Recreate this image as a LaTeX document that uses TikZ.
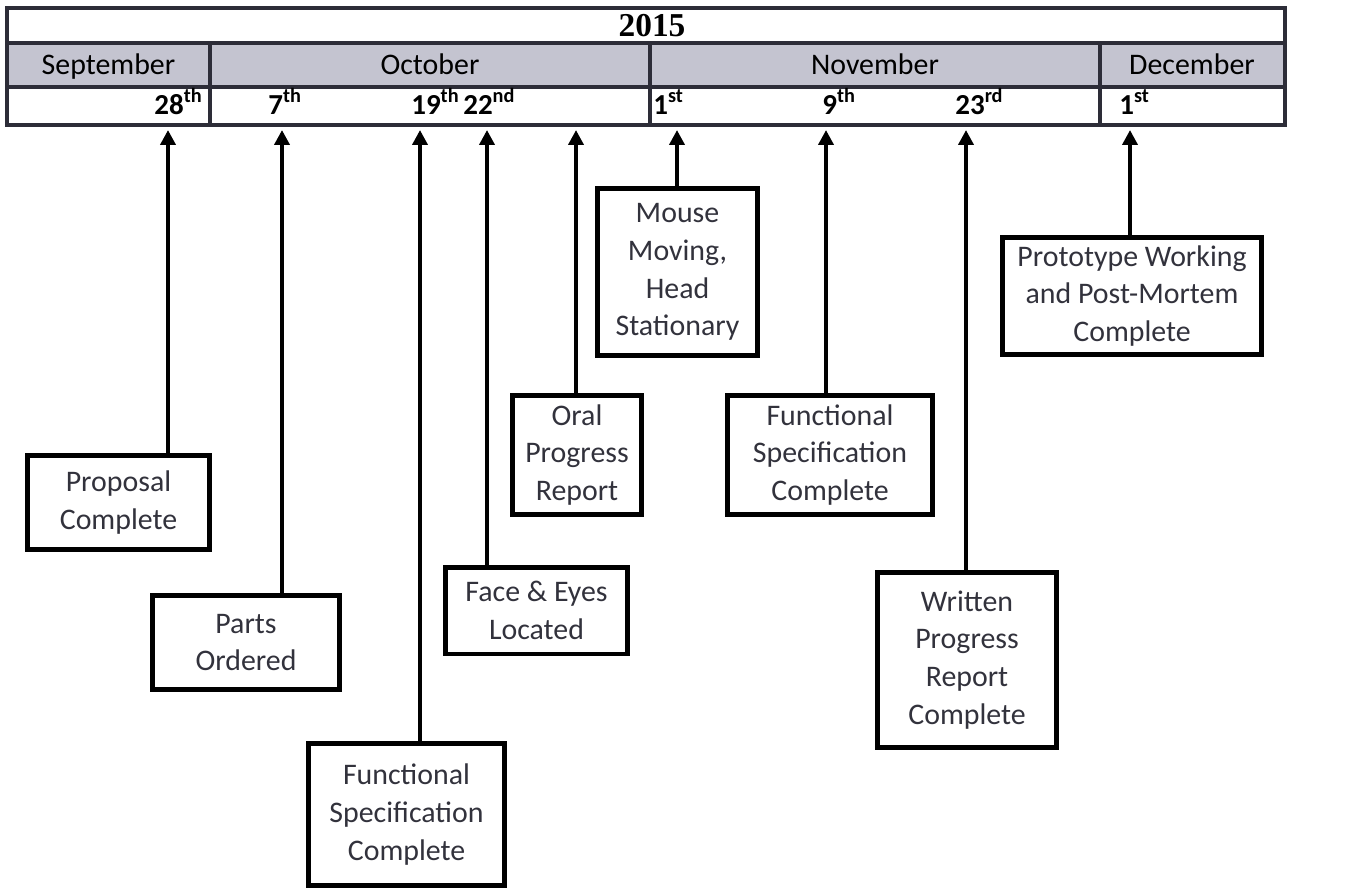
\documentclass[tikz,border=0pt]{standalone}
\usepackage{fontspec}
\setmainfont{Carlito}
\newfontfamily\yearfont{Liberation Serif}
\usepackage{tikz}
\usetikzlibrary{arrows.meta}

\definecolor{ink}{RGB}{45,45,56}
\definecolor{txt}{RGB}{50,50,60}
\definecolor{monthfill}{RGB}{196,196,208}

\tikzset{
  cell/.style={draw=ink,line width=0.08cm},
  month/.style={anchor=base,inner sep=0pt,text=black,font=\fontsize{17}{20}\selectfont},
  daylbl/.style={anchor=base west,inner sep=0pt,text=black,font=\fontsize{16.5}{20}\selectfont\bfseries},
  goal/.style={draw=black,line width=0.1cm,align=center,inner sep=0pt,text=txt,font=\fontsize{17}{21.5}\selectfont},
  due/.style={-{Triangle[length=0.3cm,width=0.3cm]},line width=0.08cm,black},
}
\newcommand{\nth}[2]{#1\textsuperscript{#2}}

\begin{document}
\begin{tikzpicture}[x=0.02cm,y=-0.02cm]
\useasboundingbox (0,0) rectangle (1348,892);

% table head
\draw[cell,fill=monthfill] (7,43) rectangle (1285,87);
\draw[cell] (7,8) rectangle (1285,125);
\draw[cell] (7,87) -- (1285,87);
\draw[cell] (210,43) -- (210,125) (650,43) -- (650,125) (1100,43) -- (1100,125);
\node (Y)[text=black,font=\fontsize{19}{22}\selectfont\yearfont\bfseries] at (652,26) {2015};
\node (Msep)[month] at (108.5,74) {September};
\node (Moct)[month] at (430,74) {October};
\node (Mnov)[month] at (875,74) {November};
\node (Mdec)[month] at (1192,74) {December};

\node (D1)[daylbl,anchor=base east] at (203,114) {\nth{28}{th}};
\node (D2)[daylbl] at (268,114) {\nth{7}{th}};
\node (D3)[daylbl] at (411,114) {\nth{19}{th}};
\node (D4)[daylbl] at (463,114) {\nth{22}{nd}};
\node (D5)[daylbl] at (653,114) {\nth{1}{st}};
\node (D6)[daylbl] at (822,114) {\nth{9}{th}};
\node (D7)[daylbl] at (955,114) {\nth{23}{rd}};
\node (D8)[daylbl] at (1119,114) {\nth{1}{st}};

% arrow tips under the table
\coordinate (T1) at (168,130);
\coordinate (T2) at (282,130);
\coordinate (T3) at (420,130);
\coordinate (T4) at (487,130);
\coordinate (T5) at (576,130);
\coordinate (T6) at (677,130);
\coordinate (T7) at (826,130);
\coordinate (T8) at (966,130);
\coordinate (T9) at (1130,130);

% milestones
\node (B1)[goal,minimum width=3.66cm,minimum height=1.9cm] at (118.5,502.5) {Proposal\\Complete};
\node (B2)[goal,minimum width=3.76cm,minimum height=1.9cm] at (246,642.5) {Parts\\Ordered};
\node (B3)[goal,minimum width=3.94cm,minimum height=2.86cm] at (406.5,814.5) {Functional\\Specification\\Complete};
\node (B4)[goal,minimum width=3.66cm,minimum height=1.74cm] at (536.5,610.5) {Face \& Eyes\\Located};
\node (B5)[goal,minimum width=2.6cm,minimum height=2.4cm] at (577,455) {Oral\\Progress\\Report};
\node (B6)[goal,minimum width=3.22cm,minimum height=3.36cm] at (677.5,272) {Mouse\\Moving,\\Head\\Stationary};
\node (B7)[goal,minimum width=4.12cm,minimum height=2.4cm] at (830,455) {Functional\\Specification\\Complete};
\node (B8)[goal,minimum width=3.6cm,minimum height=3.52cm] at (967,660) {Written\\Progress\\Report\\Complete};
\node (B9)[goal,minimum width=5.2cm,minimum height=2.36cm] at (1132,296) {Prototype Working\\and Post-Mortem\\Complete};

\draw[due] (T1 |- B1.north) -- (T1);
\draw[due] (T2 |- B2.north) -- (T2);
\draw[due] (T3 |- B3.north) -- (T3);
\draw[due] (T4 |- B4.north) -- (T4);
\draw[due] (T5 |- B5.north) -- (T5);
\draw[due] (T6 |- B6.north) -- (T6);
\draw[due] (T7 |- B7.north) -- (T7);
\draw[due] (T8 |- B8.north) -- (T8);
\draw[due] (T9 |- B9.north) -- (T9);
\end{tikzpicture}
\end{document}
